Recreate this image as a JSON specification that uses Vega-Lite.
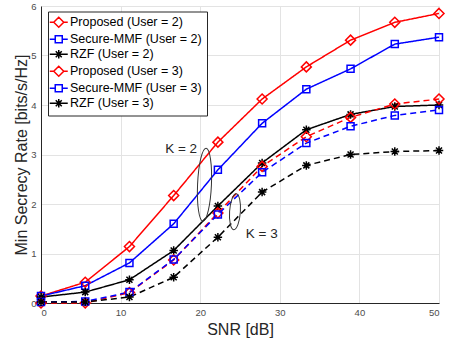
{
  "$schema": "https://vega.github.io/schema/vega-lite/v6.json",
  "autosize": {"type": "none"},
  "padding": {"left": 41, "top": 6, "right": 10, "bottom": 42},
  "width": 398,
  "height": 297,
  "background": "white",
  "config": {
    "view": {"stroke": null},
    "font": "Liberation Sans",
    "axis": {
      "labelFont": "Liberation Sans",
      "labelFontSize": 9.5,
      "labelColor": "#4d4d4d",
      "titleFont": "Liberation Sans",
      "titleFontSize": 16,
      "titleFontWeight": "normal",
      "titleColor": "#262626",
      "gridColor": "#e3e3e3",
      "gridWidth": 1,
      "domainColor": "#262626",
      "domainWidth": 1,
      "tickSize": 0
    },
    "legend": {
      "orient": "none",
      "legendX": 7,
      "legendY": 5.5,
      "fillColor": "white",
      "strokeColor": "#262626",
      "padding": 4.5,
      "symbolSize": 100,
      "symbolStrokeWidth": 1.5,
      "symbolOpacity": 1,
      "labelFont": "Liberation Sans",
      "labelFontSize": 12.5,
      "labelColor": "#000000",
      "labelOffset": 5,
      "rowPadding": 1
    }
  },
  "datasets": {
    "series": [
      {"snr": 0, "rate": 0.14, "series": "Proposed (User = 2)", "method": "Proposed", "users": "2"},
      {"snr": 5.5556, "rate": 0.42, "series": "Proposed (User = 2)", "method": "Proposed", "users": "2"},
      {"snr": 11.1111, "rate": 1.14, "series": "Proposed (User = 2)", "method": "Proposed", "users": "2"},
      {"snr": 16.6667, "rate": 2.17, "series": "Proposed (User = 2)", "method": "Proposed", "users": "2"},
      {"snr": 22.2222, "rate": 3.25, "series": "Proposed (User = 2)", "method": "Proposed", "users": "2"},
      {"snr": 27.7778, "rate": 4.12, "series": "Proposed (User = 2)", "method": "Proposed", "users": "2"},
      {"snr": 33.3333, "rate": 4.77, "series": "Proposed (User = 2)", "method": "Proposed", "users": "2"},
      {"snr": 38.8889, "rate": 5.31, "series": "Proposed (User = 2)", "method": "Proposed", "users": "2"},
      {"snr": 44.4444, "rate": 5.67, "series": "Proposed (User = 2)", "method": "Proposed", "users": "2"},
      {"snr": 50, "rate": 5.85, "series": "Proposed (User = 2)", "method": "Proposed", "users": "2"},
      {"snr": 0, "rate": 0.14, "series": "Secure-MMF (User = 2)", "method": "Secure-MMF", "users": "2"},
      {"snr": 5.5556, "rate": 0.35, "series": "Secure-MMF (User = 2)", "method": "Secure-MMF", "users": "2"},
      {"snr": 11.1111, "rate": 0.81, "series": "Secure-MMF (User = 2)", "method": "Secure-MMF", "users": "2"},
      {"snr": 16.6667, "rate": 1.6, "series": "Secure-MMF (User = 2)", "method": "Secure-MMF", "users": "2"},
      {"snr": 22.2222, "rate": 2.69, "series": "Secure-MMF (User = 2)", "method": "Secure-MMF", "users": "2"},
      {"snr": 27.7778, "rate": 3.63, "series": "Secure-MMF (User = 2)", "method": "Secure-MMF", "users": "2"},
      {"snr": 33.3333, "rate": 4.32, "series": "Secure-MMF (User = 2)", "method": "Secure-MMF", "users": "2"},
      {"snr": 38.8889, "rate": 4.73, "series": "Secure-MMF (User = 2)", "method": "Secure-MMF", "users": "2"},
      {"snr": 44.4444, "rate": 5.23, "series": "Secure-MMF (User = 2)", "method": "Secure-MMF", "users": "2"},
      {"snr": 50, "rate": 5.37, "series": "Secure-MMF (User = 2)", "method": "Secure-MMF", "users": "2"},
      {"snr": 0, "rate": 0.12, "series": "RZF (User = 2)", "method": "RZF", "users": "2"},
      {"snr": 5.5556, "rate": 0.22, "series": "RZF (User = 2)", "method": "RZF", "users": "2"},
      {"snr": 11.1111, "rate": 0.47, "series": "RZF (User = 2)", "method": "RZF", "users": "2"},
      {"snr": 16.6667, "rate": 1.06, "series": "RZF (User = 2)", "method": "RZF", "users": "2"},
      {"snr": 22.2222, "rate": 1.96, "series": "RZF (User = 2)", "method": "RZF", "users": "2"},
      {"snr": 27.7778, "rate": 2.83, "series": "RZF (User = 2)", "method": "RZF", "users": "2"},
      {"snr": 33.3333, "rate": 3.5, "series": "RZF (User = 2)", "method": "RZF", "users": "2"},
      {"snr": 38.8889, "rate": 3.81, "series": "RZF (User = 2)", "method": "RZF", "users": "2"},
      {"snr": 44.4444, "rate": 3.97, "series": "RZF (User = 2)", "method": "RZF", "users": "2"},
      {"snr": 50, "rate": 4.0, "series": "RZF (User = 2)", "method": "RZF", "users": "2"},
      {"snr": 0, "rate": 0.0, "series": "Proposed (User = 3)", "method": "Proposed", "users": "3"},
      {"snr": 5.5556, "rate": 0.0, "series": "Proposed (User = 3)", "method": "Proposed", "users": "3"},
      {"snr": 11.1111, "rate": 0.21, "series": "Proposed (User = 3)", "method": "Proposed", "users": "3"},
      {"snr": 16.6667, "rate": 0.87, "series": "Proposed (User = 3)", "method": "Proposed", "users": "3"},
      {"snr": 22.2222, "rate": 1.82, "series": "Proposed (User = 3)", "method": "Proposed", "users": "3"},
      {"snr": 27.7778, "rate": 2.76, "series": "Proposed (User = 3)", "method": "Proposed", "users": "3"},
      {"snr": 33.3333, "rate": 3.36, "series": "Proposed (User = 3)", "method": "Proposed", "users": "3"},
      {"snr": 38.8889, "rate": 3.75, "series": "Proposed (User = 3)", "method": "Proposed", "users": "3"},
      {"snr": 44.4444, "rate": 4.02, "series": "Proposed (User = 3)", "method": "Proposed", "users": "3"},
      {"snr": 50, "rate": 4.12, "series": "Proposed (User = 3)", "method": "Proposed", "users": "3"},
      {"snr": 0, "rate": 0.02, "series": "Secure-MMF (User = 3)", "method": "Secure-MMF", "users": "3"},
      {"snr": 5.5556, "rate": 0.03, "series": "Secure-MMF (User = 3)", "method": "Secure-MMF", "users": "3"},
      {"snr": 11.1111, "rate": 0.22, "series": "Secure-MMF (User = 3)", "method": "Secure-MMF", "users": "3"},
      {"snr": 16.6667, "rate": 0.88, "series": "Secure-MMF (User = 3)", "method": "Secure-MMF", "users": "3"},
      {"snr": 22.2222, "rate": 1.79, "series": "Secure-MMF (User = 3)", "method": "Secure-MMF", "users": "3"},
      {"snr": 27.7778, "rate": 2.64, "series": "Secure-MMF (User = 3)", "method": "Secure-MMF", "users": "3"},
      {"snr": 33.3333, "rate": 3.23, "series": "Secure-MMF (User = 3)", "method": "Secure-MMF", "users": "3"},
      {"snr": 38.8889, "rate": 3.57, "series": "Secure-MMF (User = 3)", "method": "Secure-MMF", "users": "3"},
      {"snr": 44.4444, "rate": 3.79, "series": "Secure-MMF (User = 3)", "method": "Secure-MMF", "users": "3"},
      {"snr": 50, "rate": 3.9, "series": "Secure-MMF (User = 3)", "method": "Secure-MMF", "users": "3"},
      {"snr": 0, "rate": 0.02, "series": "RZF (User = 3)", "method": "RZF", "users": "3"},
      {"snr": 5.5556, "rate": 0.02, "series": "RZF (User = 3)", "method": "RZF", "users": "3"},
      {"snr": 11.1111, "rate": 0.12, "series": "RZF (User = 3)", "method": "RZF", "users": "3"},
      {"snr": 16.6667, "rate": 0.52, "series": "RZF (User = 3)", "method": "RZF", "users": "3"},
      {"snr": 22.2222, "rate": 1.33, "series": "RZF (User = 3)", "method": "RZF", "users": "3"},
      {"snr": 27.7778, "rate": 2.24, "series": "RZF (User = 3)", "method": "RZF", "users": "3"},
      {"snr": 33.3333, "rate": 2.78, "series": "RZF (User = 3)", "method": "RZF", "users": "3"},
      {"snr": 38.8889, "rate": 3.0, "series": "RZF (User = 3)", "method": "RZF", "users": "3"},
      {"snr": 44.4444, "rate": 3.06, "series": "RZF (User = 3)", "method": "RZF", "users": "3"},
      {"snr": 50, "rate": 3.08, "series": "RZF (User = 3)", "method": "RZF", "users": "3"}
    ],
    "annot": [
      {"k": "K = 2", "ex": 20.54, "ey": 2.39, "tx": 17.6, "ty": 3.11},
      {"k": "K = 3", "ex": 24.37, "ey": 1.845, "tx": 27.73, "ty": 1.395}
    ]
  },
  "layer": [
    {
      "data": {"name": "series"},
      "mark": {"type": "line", "strokeWidth": 1.5},
      "encoding": {
        "x": {
          "field": "snr", "type": "quantitative",
          "scale": {"domain": [0, 50], "nice": false},
          "axis": {"values": [0, 5, 10, 15, 20, 25, 30, 35, 40, 45, 50], "title": "SNR [dB]", "labelPadding": 4, "titleY": 31, "titleBaseline": "alphabetic", "grid": true}
        },
        "y": {
          "field": "rate", "type": "quantitative",
          "scale": {"domain": [0, 6], "nice": false},
          "axis": {"values": [0, 1, 2, 3, 4, 5, 6], "title": "Min Secrecy Rate [bits/s/Hz]", "labelPadding": 5, "titleX": -14.5, "titleBaseline": "alphabetic", "grid": true}
        },
        "color": {
          "field": "series", "type": "nominal",
          "scale": {
            "domain": ["Proposed (User = 2)", "Secure-MMF (User = 2)", "RZF (User = 2)", "Proposed (User = 3)", "Secure-MMF (User = 3)", "RZF (User = 3)"],
            "range": ["#ff0000", "#0000ff", "#000000", "#ff0000", "#0000ff", "#000000"]
          },
          "legend": {
            "title": null,
            "encode": {
              "symbols": {
                "update": {
                  "shape": {"signal": "indexof(datum.value, 'Proposed') > -1 ? 'M-1.8,0H-1M1,0H1.8M0,-1L1,0L0,1L-1,0Z' : (indexof(datum.value, 'Secure') > -1 ? 'M-1.8,0H-0.7M0.7,0H1.8M-0.7,-0.7H0.7V0.7H-0.7Z' : 'M-1.8,0H1.8M0,-0.85V0.85M-0.6,-0.6L0.6,0.6M-0.6,0.6L0.6,-0.6')"},
                  "fill": {"value": "transparent"}
                }
              }
            }
          }
        },
        "detail": {"field": "series", "type": "nominal"},
        "strokeDash": {
          "field": "users", "type": "nominal",
          "scale": {"domain": ["2", "3"], "range": [[1, 0], [6, 4]]},
          "legend": null
        }
      }
    },
    {
      "data": {"name": "series"},
      "mark": {"type": "point", "filled": false, "strokeWidth": 1.5, "size": 100, "opacity": 1},
      "encoding": {
        "x": {"field": "snr", "type": "quantitative"},
        "y": {"field": "rate", "type": "quantitative"},
        "color": {
          "field": "series", "type": "nominal",
          "legend": {
            "title": null,
            "encode": {
              "symbols": {
                "update": {
                  "shape": {"signal": "indexof(datum.value, 'Proposed') > -1 ? 'M-1.8,0H-1M1,0H1.8M0,-1L1,0L0,1L-1,0Z' : (indexof(datum.value, 'Secure') > -1 ? 'M-1.8,0H-0.7M0.7,0H1.8M-0.7,-0.7H0.7V0.7H-0.7Z' : 'M-1.8,0H1.8M0,-0.85V0.85M-0.6,-0.6L0.6,0.6M-0.6,0.6L0.6,-0.6')"},
                  "fill": {"value": "transparent"}
                }
              }
            }
          }
        },
        "shape": {
          "field": "method", "type": "nominal",
          "scale": {
            "domain": ["Proposed", "Secure-MMF", "RZF"],
            "range": ["M0,-1L1,0L0,1L-1,0Z", "M-0.7,-0.7H0.7V0.7H-0.7Z", "M-0.85,0H0.85M0,-0.85V0.85M-0.6,-0.6L0.6,0.6M-0.6,0.6L0.6,-0.6"]
          },
          "legend": null
        }
      }
    },
    {
      "data": {"name": "annot"},
      "transform": [{"filter": "datum.k === 'K = 2'"}],
      "mark": {"type": "point", "filled": false, "stroke": "#333333", "strokeWidth": 1, "opacity": 1, "size": 5329, "angle": 2.5,
        "shape": "M0,-1C0.105,-1 0.19,-0.552 0.19,0C0.19,0.552 0.105,1 0,1C-0.105,1 -0.19,0.552 -0.19,0C-0.19,-0.552 -0.105,-1 0,-1Z"},
      "encoding": {
        "x": {"field": "ex", "type": "quantitative"},
        "y": {"field": "ey", "type": "quantitative"}
      }
    },
    {
      "data": {"name": "annot"},
      "transform": [{"filter": "datum.k === 'K = 3'"}],
      "mark": {"type": "point", "filled": false, "stroke": "#333333", "strokeWidth": 1, "opacity": 1, "size": 1296, "angle": 4,
        "shape": "M0,-1C0.166,-1 0.3,-0.552 0.3,0C0.3,0.552 0.166,1 0,1C-0.166,1 -0.3,0.552 -0.3,0C-0.3,-0.552 -0.166,-1 0,-1Z"},
      "encoding": {
        "x": {"field": "ex", "type": "quantitative"},
        "y": {"field": "ey", "type": "quantitative"}
      }
    },
    {
      "data": {"name": "annot"},
      "mark": {"type": "text", "font": "Liberation Sans", "fontSize": 13.5, "color": "#262626", "align": "center", "baseline": "middle"},
      "encoding": {
        "x": {"field": "tx", "type": "quantitative"},
        "y": {"field": "ty", "type": "quantitative"},
        "text": {"field": "k", "type": "nominal"}
      }
    }
  ]
}
